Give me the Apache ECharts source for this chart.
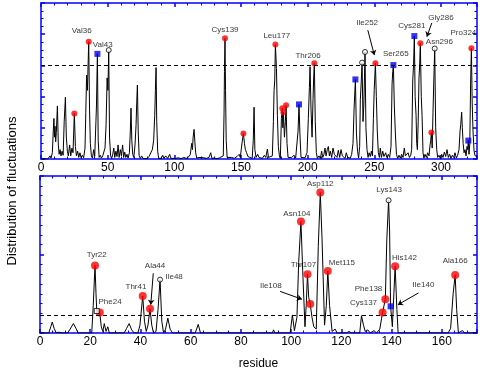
<!DOCTYPE html>
<html>
<head>
<meta charset="utf-8">
<script src="https://cdn.jsdelivr.net/npm/echarts@6/dist/echarts.min.js"></script>
<style>
html, body { margin: 0; padding: 0; background: #fff; }
#maindiv { width: 488px; height: 375px; }
</style>
</head>
<body>
<div id="maindiv"></div>
<script>
// top panel: residue / fluctuation
var topTrace = [
    [0,0],[5,0],[6.8,0.1],[7.5,0.03],[8.5,0.2],[9.2,0.9],[9.7,1.3],[10.1,0.7],[10.5,1.05],[11,0.55],[11.5,0.85],[12.3,1.7],[13,0.45],[13.6,0.15],[14.3,0.3],[15,0.1],[15.8,0.25],[16.6,0.12],[17.4,1.2],[18.3,1.98],[19,0.7],[19.8,0.25],[20.5,0.1],[21.5,0.45],[22.3,0.1],[23.2,0.35],[24,0.2],[25,1.46],[25.8,0.4],[26.6,0.1],[27.5,0.25],[28.3,0.05],[29.2,0.2],[30,0.05],[31,0.12],[32,0.04],[33,0.35],[33.6,1.5],[34.2,2.69],[34.8,2.2],[35.8,3.76],[36.4,1.6],[37,0.5],[37.8,0.1],[38.6,0.03],[39.5,0.3],[40.3,0.08],[41.2,1.2],[41.6,1.7],[42.3,3.37],[42.9,0.6],[43.6,0.05],[44.5,0.12],[45.3,0.03],[46.3,0.1],[47.2,0.05],[48,0.35],[48.8,1.1],[49.6,2.6],[50.2,2.2],[50.8,3.49],[51.4,0.7],[52.2,0.1],[53,0.02],[53.8,0.15],[54.6,0.35],[55.3,0.05],[56.2,0.25],[57,0.08],[57.8,0.45],[58.6,0.05],[59.5,0.3],[60.3,0.1],[61.2,0.45],[62,0.05],[62.8,0.22],[63.6,0.05],[64.5,0.15],[65.3,0.03],[66.3,0.2],[67,0.9],[67.5,1.63],[68.1,0.6],[68.8,0.15],[69.6,0.05],[70.5,0.45],[71.3,1.1],[71.8,1.8],[72.3,2.37],[72.9,0.9],[73.6,0.1],[74.5,0.02],[75.5,0.1],[76.5,0.02],[78,0.05],[79.5,0.01],[81,0.08],[82.3,0.05],[83.5,0.3],[84.5,0.6],[85.3,1.4],[85.8,2.2],[86.3,2.93],[86.8,1.2],[87.5,0.25],[88.3,0.02],[90,0.02],[91.3,0.12],[92.2,0.02],[93.5,0.1],[95,0.02],[96.5,0.15],[97.5,0.02],[99,0.05],[101,0.02],[103,0.04],[105,0.01],[107,0.05],[109,0.02],[111,0.08],[112,0.15],[113,0.5],[113.6,0.3],[114.1,0.7],[114.8,0.95],[115.4,0.55],[116,0.2],[116.8,0.03],[118.5,0.05],[120,0.01],[122,0.04],[124,0.02],[126,0.05],[127.3,0.2],[128.2,0.02],[130,0.03],[132,0.01],[134,0.04],[135.5,0.02],[136.7,0.1],[137.3,1.5],[137.6,2.8],[138,3.87],[138.4,2.2],[138.9,0.6],[139.6,0.05],[141,0.02],[143,0.05],[145,0.02],[147,0.08],[148.6,0.15],[149.5,0.05],[150.3,0.35],[150.9,0.55],[151.8,0.82],[152.6,0.5],[153.3,0.3],[154.2,0.2],[155.2,0.08],[156.3,0.02],[158.4,0.02],[159.2,0.6],[159.8,1.66],[160.4,0.3],[161.3,0.05],[162.5,0.15],[163.5,0.05],[164.5,0.1],[166,0.02],[167.5,0.12],[168.6,0.05],[169.8,0.32],[170.6,0.05],[172,0.02],[173.5,0.1],[174.3,1.2],[174.8,2.2],[175.3,2.5],[175.8,3.67],[176.6,2.9],[177.3,1.4],[178,0.4],[178.8,0.1],[179.5,0.02],[180.3,1.3],[181,1.63],[181.4,1.0],[181.8,1.5],[182.6,0.7],[183.3,1.2],[183.8,1.72],[184.5,0.5],[185.3,0.05],[186.5,0.02],[188,0.05],[189.8,0.12],[191,0.03],[192,0.05],[192.8,0.9],[193.5,1.75],[194.2,0.8],[195,0.05],[196.5,0.02],[198,0.04],[199.5,0.2],[200.5,1.3],[201.3,2.3],[201.8,2.96],[202.5,1.6],[203.3,0.7],[204,1.9],[204.5,2.6],[205,3.07],[205.7,1.2],[206.5,0.2],[207.3,0.02],[208.5,0.1],[209.5,0.02],[210.5,0.25],[211.3,0.05],[212.2,0.15],[213,0.35],[213.8,0.1],[214.7,0.3],[215.5,0.4],[216.3,0.1],[217,0.25],[218,0.05],[219,0.35],[220,0.15],[221,0.2],[222,0.05],[223,0.28],[224,0.05],[225,0.3],[226,0.1],[227,0.15],[228,0.02],[229,0.2],[230,0.05],[231,0.1],[232,0.03],[233,0.15],[234,0.5],[234.8,1.6],[235.8,2.55],[236.6,0.8],[237.4,0.25],[238.2,0.03],[239,0.4],[239.5,1.9],[240.2,2.5],[240.8,3.09],[241.5,1.2],[242.1,1.7],[242.6,2.6],[243,3.43],[243.7,1.0],[244.5,0.3],[245.3,0.05],[246.1,0.2],[247,0.08],[247.8,0.25],[248.6,0.1],[249.3,1.3],[249.9,2.2],[250.8,3.07],[251.5,2.0],[252.2,0.9],[253,0.2],[253.8,0.05],[254.5,0.35],[255.3,0.05],[256.3,0.25],[257.2,0.08],[258.5,0.2],[259.4,0.05],[260.5,0.15],[261.5,0.05],[262.5,0.4],[263.3,2.4],[263.8,2.8],[264.3,3.01],[265,1.7],[265.8,0.8],[266.6,0.15],[267.5,0.02],[268.5,0.12],[269.5,0.03],[270.5,0.15],[271.5,0.05],[272.5,0.35],[273.3,0.1],[274.3,0.05],[275.3,0.2],[276.3,0.05],[277.3,0.12],[278,0.3],[278.8,2.5],[279.4,3.0],[280,3.94],[280.6,2.0],[281.3,1.4],[281.8,0.5],[282.3,0.3],[282.9,1.2],[283.5,2.6],[284,3.0],[284.5,3.71],[285.2,2.0],[285.8,1.4],[286.5,0.2],[287.2,0.03],[288,0.15],[289,0.05],[290,0.2],[291,0.1],[291.8,0.45],[292.3,0.6],[292.8,0.85],[293.4,0.35],[294,1.5],[294.6,2.5],[295.3,3.54],[296,1.0],[296.8,0.3],[297.5,0.05],[298.5,0.12],[299.5,0.02],[300.5,0.15],[301.5,0.05],[302.5,0.22],[303.5,0.08],[304.5,0.3],[305.5,0.05],[306.5,0.15],[307.5,0.02],[308.5,0.12],[309.5,0.05],[310.5,0.2],[311.5,0.03],[312.5,0.12],[313.5,0.3],[314.3,0.9],[314.8,1.1],[315.5,1.5],[316,1.0],[316.6,0.5],[317.3,0.2],[318,0.3],[318.8,0.1],[319.5,0.4],[320,0.3],[320.5,0.59],[321,0.15],[321.6,0.5],[322.2,2.4],[322.8,3.55],[323.4,1.8],[324,0.9],[324.8,0.25],[325.6,0.1],[327,0.08]
];
var topRed = [[25,1.46],[35.8,3.76],[138,3.87],[151.8,0.82],[175.8,3.67],[181,1.63],[181.8,1.5],[183.8,1.72],[205,3.07],[250.8,3.07],[284.5,3.71],[292.8,0.85],[322.8,3.55]];
var topBlue = [[42.3,3.37],[193.5,1.75],[235.8,2.55],[264.3,3.01],[280,3.94],[320.5,0.59]];
var topOpen = [[50.8,3.49],[240.8,3.09],[243,3.43],[295.3,3.54]];
var topLabels = [
    ['Val36',30.5,4.1],['Val43',46.3,3.65],['Cys139',138,4.13],['Leu177',176.8,3.94],['Thr206',200.3,3.3],
    ['Ile252',244.6,4.36],['Ser265',266.1,3.37],['Cys281',278.1,4.26],['Gly286',300,4.52],['Asn296',298.8,3.75],['Pro324',316.8,4.04]
];
var topArrows = [[[245.1,4.13],[250,3.33]],[[293.1,4.36],[289.4,3.92]]];
var topCut = 3;

// bottom panel
var bottomTrace = [
    [0,0],[3.5,0],[4.3,0.08],[4.9,0.14],[5.6,0.06],[6.5,0],[7.5,0.01],[8.2,0.03],[9,0],[11,0],[12,0.05],[13.3,0.12],[14.3,0.06],[15.2,0],[20.6,0],[21.2,0.35],[21.9,0.86],[22.3,0.5],[22.6,0.28],[23.2,0.3],[23.8,0.26],[24.4,0.08],[25,0.02],[25.6,0.12],[26.3,0.02],[27,0.08],[27.6,0],[33.5,0],[34.5,0.06],[35.5,0.12],[36.5,0.04],[37.5,0],[39,0],[39.8,0.1],[40.9,0.47],[41.6,0.15],[42.3,0.02],[43,0.1],[43.8,0.31],[44.5,0.1],[45.2,0],[46.2,0.02],[47,0.3],[47.8,0.68],[48.5,0.15],[49.2,0],[50,0.05],[50.9,0.19],[51.8,0.05],[52.8,0],[61.8,0],[63,0.11],[63.9,0],[92.5,0],[93,0.04],[93.5,0],[99.6,0],[100.5,0.23],[101.3,0.03],[102.3,0.2],[103,0.9],[103.9,1.42],[104.6,0.8],[105.5,0.08],[106,0.35],[106.5,0.75],[107,0.45],[107.6,0.37],[108.3,0.2],[109,0.08],[110,0.05],[110.8,1.1],[111.6,1.79],[112.3,1.2],[113.3,0.1],[114,0.35],[114.6,0.79],[115.3,0.35],[116.3,0.02],[117.5,0.05],[118.3,0],[122,0],[123,0.02],[124,0],[127.3,0],[128,0.22],[128.8,0.1],[129.5,0.02],[130.5,0.04],[131.5,0],[133,0.03],[134,0],[135.3,0.05],[136.4,0.26],[137.5,0.43],[138.1,1.2],[138.8,1.69],[139.2,1.3],[139.6,0.34],[140.3,0.08],[140.9,0.5],[141.4,0.85],[142.1,0.3],[142.6,0],[162.5,0],[163.5,0.06],[164.5,0.5],[165.3,0.74],[165.9,0.3],[166.6,0],[167.5,0.02],[168.3,0.03],[169,0],[174,0]
];
var bottomRed = [[21.9,0.86],[23.8,0.26],[40.9,0.47],[43.8,0.31],[103.9,1.42],[106.5,0.75],[107.6,0.37],[111.6,1.79],[114.6,0.79],[136.4,0.26],[137.5,0.43],[141.4,0.85],[165.3,0.74]];
var bottomBlue = [[139.6,0.34]];
var bottomOpen = [[47.8,0.68],[138.8,1.69]];
var bottomOpenSquare = [[22.6,0.28]];
var bottomLabels = [
    ['Tyr22',22.6,0.99],['Phe24',27.9,0.4],['Thr41',38.2,0.59],['Ala44',45.8,0.85],['Ile48',53.4,0.71],
    ['Asn104',102.3,1.52],['Asp112',111.6,1.9],['Thr107',104.9,0.87],['Ile108',91.9,0.6],['Met115',120.2,0.9],
    ['Lys143',139,1.83],['His142',145.1,0.96],['Ala166',165.3,0.92],['Phe138',130.8,0.56],['Cys137',128.8,0.38],['Ile140',152.7,0.61]
];
var bottomArrows = [[[45.1,0.76],[44.1,0.36]],[[95.6,0.53],[104.3,0.43]],[[150.7,0.51],[142.5,0.36]]];
var bottomCut = 0.22;

var axisBlue = '#0000ff';
var fontNm = 'Arial, "Liberation Sans", sans-serif';

function xAx(grid, pos, max, interval, minorSplit) {
    return {
        type: 'value', gridIndex: grid, position: pos, min: 0, max: max, interval: interval,
        axisLine: { show: true, onZero: false, lineStyle: { color: axisBlue, width: 1.5 } },
        axisTick: { show: true, inside: true, length: 4, lineStyle: { color: axisBlue, width: 1.5 } },
        minorTick: { show: true, splitNumber: minorSplit, length: 2.5, lineStyle: { color: axisBlue, width: 1 } },
        axisLabel: {
            show: pos === 'bottom', color: '#000', fontSize: 12, fontFamily: fontNm, margin: 3,
            formatter: function (v) { return v % interval === 0 ? String(v) : ''; }
        },
        splitLine: { show: false }
    };
}
function yAx(grid, pos, max, minorSplit) {
    return {
        type: 'value', gridIndex: grid, position: pos, min: 0, max: max, interval: 1,
        axisLine: { show: true, onZero: false, lineStyle: { color: axisBlue, width: 1.5 } },
        axisTick: { show: true, inside: true, length: 4, lineStyle: { color: axisBlue, width: 1.5 } },
        minorTick: { show: true, splitNumber: minorSplit, length: 2.5, lineStyle: { color: axisBlue, width: 1 } },
        axisLabel: { show: false },
        splitLine: { show: false }
    };
}
function labelData(list) {
    return list.map(function (d) { return { name: d[0], value: [d[1], d[2]] }; });
}
function panelSeries(xi, yi, trace, cut, red, blue, open, labels, arrows, redSize) {
    return [
        {
            type: 'line', xAxisIndex: xi, yAxisIndex: yi, data: trace, symbol: 'none',
            lineStyle: { color: '#000', width: 1 }, z: 2,
            markLine: {
                silent: true, symbol: 'none', label: { show: false }, precision: 3,
                lineStyle: { color: '#000', width: 1, type: [4, 3] },
                data: [{ yAxis: cut }]
            }
        },
        {
            type: 'line', xAxisIndex: xi, yAxisIndex: yi, data: [], symbol: 'none', z: 3,
            markLine: {
                silent: true, label: { show: false }, symbol: ['none', 'arrow'], symbolSize: 5,
                lineStyle: { color: '#000', width: 1, type: 'solid' },
                data: arrows.map(function (a) { return [{ coord: a[0] }, { coord: a[1] }]; })
            }
        },
        {
            type: 'scatter', xAxisIndex: xi, yAxisIndex: yi, data: red, symbol: 'circle', symbolSize: redSize,
            itemStyle: { color: '#ff0000' }, z: 4
        },
        {
            type: 'scatter', xAxisIndex: xi, yAxisIndex: yi, data: blue, symbol: 'rect', symbolSize: 6,
            itemStyle: { color: '#0000ee' }, z: 4
        },
        {
            type: 'scatter', xAxisIndex: xi, yAxisIndex: yi, data: open, symbol: 'circle', symbolSize: 5,
            itemStyle: { color: '#fff', borderColor: '#000', borderWidth: 1 }, z: 4
        },
        {
            type: 'scatter', xAxisIndex: xi, yAxisIndex: yi, data: labelData(labels), symbolSize: 1,
            itemStyle: { color: 'transparent' }, silent: true, z: 5,
            label: { show: true, position: 'inside', formatter: '{b}', color: '#000', fontSize: 8, fontFamily: fontNm }
        }
    ];
}

var series = [].concat(
    panelSeries(0, 0, topTrace, topCut, topRed, topBlue, topOpen, topLabels, topArrows, 6),
    panelSeries(2, 2, bottomTrace, bottomCut, bottomRed, bottomBlue, bottomOpen, bottomLabels, bottomArrows, 8)
);
series.push({
    type: 'scatter', xAxisIndex: 2, yAxisIndex: 2, data: bottomOpenSquare, symbol: 'rect', symbolSize: 5,
    itemStyle: { color: '#fff', borderColor: '#000', borderWidth: 1 }, z: 4
});

var xBottom = xAx(1, 'bottom', 174, 20, 4);
xBottom.name = 'residue';
xBottom.nameLocation = 'middle';
xBottom.nameGap = 25;
xBottom.nameTextStyle = { color: '#000', fontSize: 12, fontFamily: fontNm };

var option = {
    animation: false,
    backgroundColor: '#fff',
    grid: [
        { left: 41, top: 3, width: 436, height: 156 },
        { left: 40, top: 176, width: 437, height: 157 }
    ],
    xAxis: [
        xAx(0, 'bottom', 327, 50, 5),
        xAx(0, 'top', 327, 50, 5),
        xBottom,
        xAx(1, 'top', 174, 20, 4)
    ],
    yAxis: [
        yAx(0, 'left', 5, 4),
        yAx(0, 'right', 5, 4),
        yAx(1, 'left', 2, 8),
        yAx(1, 'right', 2, 8)
    ],
    graphic: [{
        type: 'text', x: 12, y: 191, rotation: Math.PI / 2,
        style: { text: 'Distribution of fluctuations', fill: '#000', font: '13px ' + fontNm, align: 'center', verticalAlign: 'middle' }
    }],
    series: series
};

var maindata1 = echarts.init(document.getElementById('maindiv'));
maindata1.setOption(option);
</script>
</body>
</html>
